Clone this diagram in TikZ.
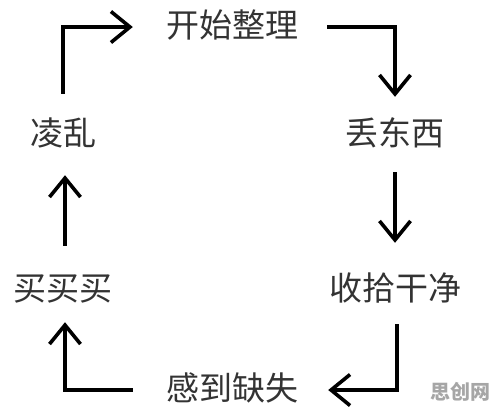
\documentclass[tikz,border=0pt]{standalone}
\usepackage{fontspec}
\usepackage{xcolor}
\usepackage{tikz}
\usetikzlibrary{arrows.meta,positioning}
\newfontfamily\cjk{Noto Sans CJK SC}
\definecolor{textgray}{HTML}{333333}

\begin{document}
\begin{tikzpicture}[x=1bp, y=-1bp, every node/.style={font=\cjk\fontsize{33bp}{36bp}\selectfont, text=textgray}, stage/.style={inner sep=0pt, text height=26bp, text depth=6bp}, arr/.style={-{Straight Barb[length=19bp,width=31bp]}, line width=3.6bp, black}]
\useasboundingbox[fill=white] (0,0) rectangle (496,414);
\node[stage] (start) at (232,27) {开始整理};
\node[stage] (diu) at (395,135) {丢东西};
\node[stage] (shou) at (395,290) {收拾干净};
\node[stage] (gan) at (232,390) {感到缺失};
\node[stage] (mai) at (63,290) {买买买};
\node[stage] (luan) at (63,135) {凌乱};
\draw[arr, shorten <=25bp, shorten >=33bp] (luan.north) |- (start.west);
\draw[arr, shorten <=29bp, shorten >=22bp] (start.east) -| (diu.north);
\draw[arr, shorten <=21bp, shorten >=31bp] (diu.south) -- (shou.north);
\draw[arr, shorten <=18bp, shorten >=30bp] ([xshift=2bp]shou.south) |- (gan.east);
\draw[arr, shorten <=33bp, shorten >=16bp] (gan.west) -| ([xshift=2bp]mai.south);
\draw[arr, shorten <=28bp, shorten >=24bp] ([xshift=2bp]mai.north) -- ([xshift=2bp]luan.south);
\node[font=\cjk\bfseries\fontsize{20bp}{22bp}\selectfont, text=black!35] (mark) at (460,392) {思创网};
\end{tikzpicture}
\end{document}
